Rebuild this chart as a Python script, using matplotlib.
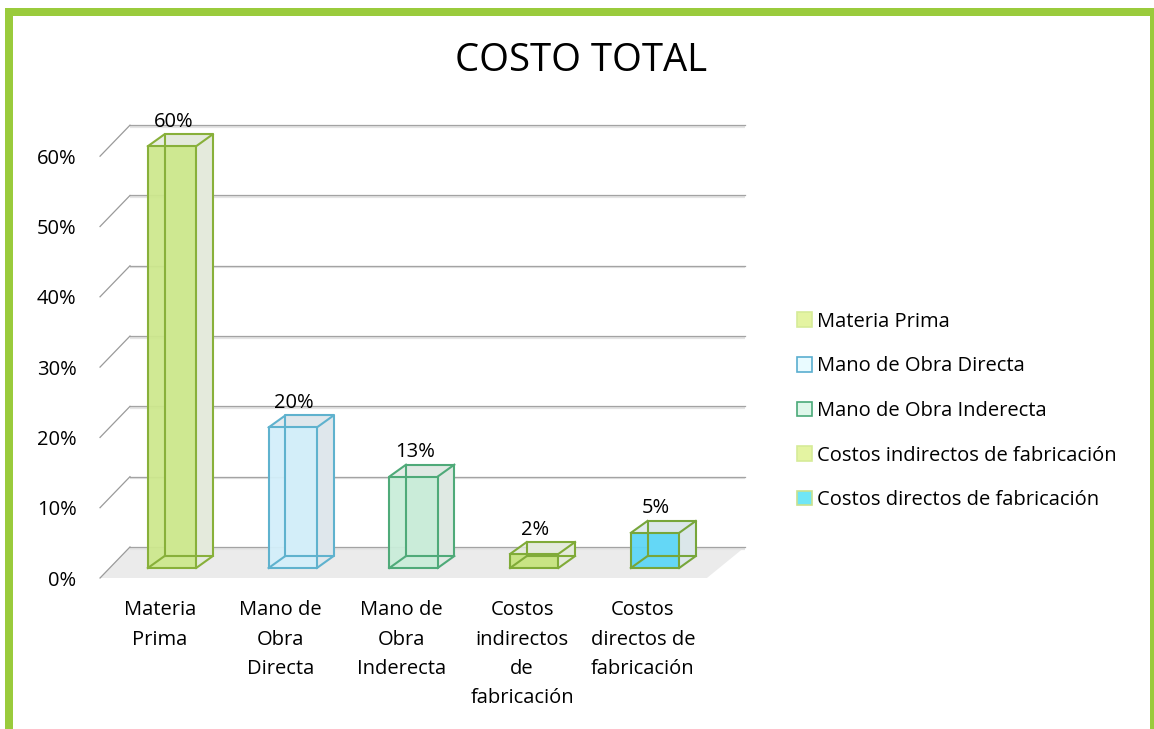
import matplotlib
matplotlib.use("Agg")
import matplotlib.pyplot as plt
from matplotlib.patches import Rectangle, Polygon, Patch

plt.rcParams['font.family'] = ['Open Sans', 'DejaVu Sans']

# ---------------- data ----------------
categories = ["Materia Prima", "Mano de Obra Directa", "Mano de Obra Inderecta",
              "Costos indirectos de fabricación", "Costos directos de fabricación"]
tick_labels = ["Materia\nPrima", "Mano de\nObra\nDirecta", "Mano de\nObra\nInderecta",
               "Costos\nindirectos\nde\nfabricación", "Costos\ndirectos de\nfabricación"]
values = [60, 20, 13, 2, 5]
value_labels = ["60%", "20%", "13%", "2%", "5%"]
yticks = [0, 10, 20, 30, 40, 50, 60]
ytick_labels = ["0%", "10%", "20%", "30%", "40%", "50%", "60%"]

front_colors = ["#cde88d", "#d3effa", "#c9edd9", "#c6e47e", "#5dd6f7"]
edge_colors = ["#88b03a", "#5fb2ce", "#4faa79", "#80ab38", "#77a63b"]
side_colors = ["#e4eadc", "#dfe7ec", "#dfe9e3", "#e4eadc", "#dbe7ea"]
legend_face = ["#e4f4a2", "#e9fbff", "#dff7ea", "#e4f4a2", "#70e6f6"]
legend_edge = ["#d6eb98", "#5aaed0", "#4aa978", "#d6eb98", "#c8e08e"]

# ---------------- geometry (style) ----------------
W = 0.40            # bar width in category units
BASE = 1.42         # bar front base height (perspective)
BDX, BDY = 0.138, 1.70   # bar depth offset
FLOOR_FL, FLOOR_FR = -0.596, 4.43
FLOOR_BL, FLOOR_BR = -0.348, 4.745
WDY = 4.41          # wall depth offset (in %)

fig = plt.figure(figsize=(11.54, 7.29), dpi=100)
ax = fig.add_axes([75.4 / 1154, (729 - 592.06) / 729,
                   (775.75 - 75.4) / 1154, (592.06 - 99.96) / 729])
ax.set_xlim(-0.8, 5.0)
ax.set_ylim(-2, 68)
ax.set_facecolor("none")
for s in ["top", "right", "bottom"]:
    ax.spines[s].set_visible(False)
ax.spines["left"].set_position(("data", FLOOR_FL))
ax.spines["left"].set_visible(False)

# floor
ax.add_patch(Polygon([(FLOOR_FL, 0), (FLOOR_FR, 0), (FLOOR_BR, WDY), (FLOOR_BL, WDY)],
                     closed=True, facecolor="#ebebeb", edgecolor="none", zorder=1))

# gridlines (back wall + left diagonals)
for v in yticks:
    ax.plot([FLOOR_BL, FLOOR_BR], [v + WDY - 0.22, v + WDY - 0.22], color="#e4e4e4", lw=1.6, zorder=1.5,
            solid_capstyle="butt")
    ax.plot([FLOOR_BL, FLOOR_BR], [v + WDY, v + WDY], color="#a3a3a3", lw=0.9, zorder=2)
    ax.plot([FLOOR_FL, FLOOR_BL], [v, v + WDY], color="#9a9a9a", lw=0.9, zorder=2)

# bars
xs = list(range(len(values)))
for i, v in enumerate(values):
    x0, x1 = i - W / 2, i + W / 2
    yb, yt = BASE, BASE + v
    # back face
    ax.bar(i + BDX, v, W, bottom=BASE + BDY, color=side_colors[i], zorder=3)
    # right side face
    ax.add_patch(Polygon([(x1, yb), (x1 + BDX, yb + BDY), (x1 + BDX, yt + BDY), (x1, yt)],
                         closed=True, facecolor=side_colors[i], edgecolor="none", zorder=3.2))
    # top face
    ax.add_patch(Polygon([(x0, yt), (x1, yt), (x1 + BDX, yt + BDY), (x0 + BDX, yt + BDY)],
                         closed=True, facecolor=side_colors[i], edgecolor="none", alpha=0.8, zorder=3.2))
    # front face
    ax.bar(i, v, W, bottom=BASE, color=front_colors[i], alpha=0.94, zorder=4)
    # edges
    ec = edge_colors[i]
    lw = 1.5
    ax.plot([x0 + BDX, x1 + BDX, x1 + BDX, x0 + BDX, x0 + BDX],
            [yb + BDY, yb + BDY, yt + BDY, yt + BDY, yb + BDY], color=ec, lw=lw, zorder=4.5)
    for (cx, cy) in [(x0, yb), (x1, yb), (x0, yt), (x1, yt)]:
        ax.plot([cx, cx + BDX], [cy, cy + BDY], color=ec, lw=lw, zorder=4.5)
    ax.plot([x0, x1, x1, x0, x0], [yb, yb, yt, yt, yb], color=ec, lw=lw, zorder=5)
    # value label
    ax.annotate(value_labels[i], xy=(i + 0.01, yt + BDY), xytext=(0, 9),
                textcoords="offset points", ha="center", va="center", fontsize=14.5,
                color="#000000", zorder=6)

# y ticks
ax.set_yticks(yticks)
ax.set_yticklabels(ytick_labels, fontsize=14.5, color="#000000")
ax.tick_params(axis="y", length=0, pad=17)

# x ticks
ax.set_xticks([i - 0.1 for i in xs])
ax.set_xticklabels(tick_labels, fontsize=14.5, color="#000000", linespacing=1.62)
ax.tick_params(axis="x", length=0, pad=6)

# title
fig.text(581.5 / 1154, 1 - 61 / 729, "COSTO TOTAL", ha="center", va="center",
         fontsize=27.5, color="#000000")

# legend
handles = [Patch(facecolor=legend_face[k], edgecolor=legend_edge[k], linewidth=1.2)
           for k in range(len(categories))]
fig.legend(handles, categories, loc="center left", bbox_to_anchor=(797 / 1154, 1 - 411 / 729),
           frameon=False, fontsize=14.5, handlelength=0.75, handleheight=0.75,
           handletextpad=0.25, labelspacing=1.22, borderpad=0, borderaxespad=0)

# green frame
fig.patches.append(Rectangle((9 / 1154, -1.2 / 729), (1154 - 9) / 1154, (730.2 - 11.5) / 729,
                             transform=fig.transFigure, fill=False, edgecolor="#9acb3c",
                             linewidth=8 * 72 / 100, clip_on=False))

fig.savefig("out.png", dpi=100)
